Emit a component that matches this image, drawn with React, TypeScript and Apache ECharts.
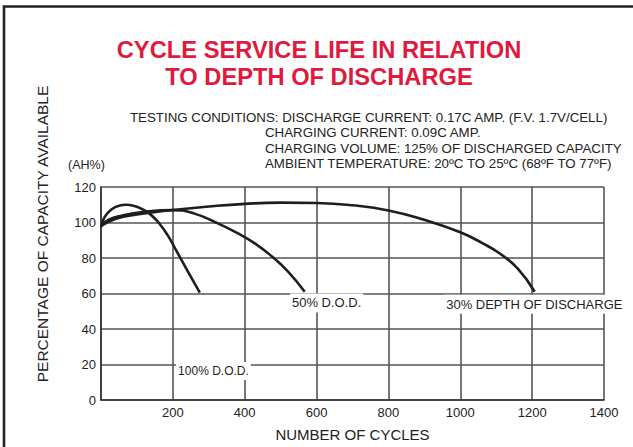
import React, { useEffect, useRef } from "react";
import * as echarts from "echarts";

const FONT = '"Liberation Sans", Arial, Helvetica, sans-serif';

const titleLines = ["CYCLE SERVICE LIFE IN RELATION", "TO DEPTH OF DISCHARGE"];
const conditionLines = [
  "TESTING CONDITIONS: DISCHARGE CURRENT: 0.17C AMP. (F.V. 1.7V/CELL)",
  "CHARGING CURRENT: 0.09C AMP.",
  "CHARGING VOLUME: 125% OF DISCHARGED CAPACITY",
  "AMBIENT TEMPERATURE: 20ºC TO 25ºC (68ºF TO 77ºF)",
];
const yAxisTitle = "PERCENTAGE OF CAPACITY AVAILABLE";
const xAxisTitle = "NUMBER OF CYCLES";
const unitLabel = "(AH%)";

const seriesNames = ["100% D.O.D.", "50% D.O.D.", "30% DEPTH OF DISCHARGE"];

const cycles100 = [0, 10, 30, 50, 70, 90, 110, 135, 160, 185, 210, 240, 275];
const capacity100 = [97.5, 103, 107.5, 109.5, 110, 109.5, 108, 105, 100, 93, 84, 73, 60.5];

const cycles50 = [0, 20, 60, 120, 200, 260, 320, 380, 430, 475, 520, 567];
const capacity50 = [98, 101.5, 104, 106, 107, 105, 100, 94, 88, 81, 72.5, 61];

const cycles30 = [0, 40, 100, 200, 300, 400, 500, 600, 700, 800, 900, 1000, 1060, 1110, 1160, 1207];
const capacity30 = [98, 102, 104.5, 107, 109, 110.5, 111.2, 111, 109.7, 106.8, 101.5, 94.5, 88.5, 82.5, 74, 61];

// label anchor positions in data space [cycles, capacity]
const labelAnchors = [
  [313, 16.4],
  [628, 54.7],
  [1206, 54],
];

const pairs = (xs: number[], ys: number[]) => xs.map((x, i) => [x, ys[i]]);

export default function App() {
  const ref = useRef<HTMLDivElement>(null);

  useEffect(() => {
    if (!ref.current) return;
    const chart = echarts.init(ref.current, null, { renderer: "svg" });

    const dataSets = [
      pairs(cycles100, capacity100),
      pairs(cycles50, capacity50),
      pairs(cycles30, capacity30),
    ];
    const labelSizes = [12, 13, 13];

    const series = dataSets.map((data, i) => ({
      type: "line",
      name: seriesNames[i],
      data,
      smooth: 0.5,
      showSymbol: false,
      symbol: "none",
      clip: false,
      lineStyle: { color: "#1e1e1e", width: 2.6 },
      markPoint: {
        symbol: "rect",
        symbolSize: 1,
        itemStyle: { color: "rgba(0,0,0,0)" },
        data: [
          {
            coord: labelAnchors[i],
            label: {
              show: true,
              position: "inside",
              formatter: seriesNames[i],
              color: "#1e1e1e",
              fontFamily: FONT,
              fontSize: labelSizes[i],
              backgroundColor: "#ffffff",
              padding: [3, 2],
            },
          },
        ],
      },
    }));

    const graphic: any[] = [
      {
        type: "rect",
        shape: { x: 4, y: 6.5, width: 800, height: 600 },
        style: { fill: "none", stroke: "#222", lineWidth: 2.6 },
        silent: true,
      },
      ...titleLines.map((t, i) => ({
        type: "text",
        x: 319,
        y: 50 + i * 26.5,
        style: {
          text: t,
          align: "center",
          verticalAlign: "middle",
          fill: "#e01a3e",
          fontFamily: FONT,
          fontWeight: "bold",
          fontSize: 23.7,
        },
      })),
      ...conditionLines.map((t, i) => ({
        type: "text",
        x: i === 0 ? 130 : 265,
        y: 117 + i * 15.6,
        style: {
          text: t,
          align: "left",
          verticalAlign: "middle",
          fill: "#222",
          fontFamily: FONT,
          fontSize: 13.3,
        },
      })),
      {
        type: "text",
        x: 68,
        y: 165,
        style: {
          text: unitLabel,
          align: "left",
          verticalAlign: "middle",
          fill: "#222",
          fontFamily: FONT,
          fontSize: 12.5,
        },
      },
      {
        type: "text",
        x: 42,
        y: 234,
        rotation: Math.PI / 2,
        style: {
          text: yAxisTitle,
          align: "center",
          verticalAlign: "middle",
          fill: "#222",
          fontFamily: FONT,
          fontSize: 15.5,
        },
      },
    ];

    chart.setOption({
      animation: false,
      backgroundColor: "#ffffff",
      grid: { left: 101, top: 187, right: 29, bottom: 47, containLabel: false },
      xAxis: {
        type: "value",
        min: 0,
        max: 1400,
        interval: 200,
        name: xAxisTitle,
        nameLocation: "middle",
        nameGap: 27,
        nameTextStyle: { color: "#222", fontFamily: FONT, fontSize: 15 },
        axisLine: { show: true, lineStyle: { color: "#333", width: 1.6 } },
        axisTick: { show: false },
        axisLabel: {
          color: "#222",
          fontFamily: FONT,
          fontSize: 13,
          margin: 6,
          showMinLabel: false,
          formatter: (v: number) => String(v),
        },
        splitLine: { show: true, lineStyle: { color: "#555", width: 1.6 } },
      },
      yAxis: {
        type: "value",
        min: 0,
        max: 120,
        interval: 20,
        axisLine: { show: true, lineStyle: { color: "#333", width: 1.6 } },
        axisTick: { show: false },
        axisLabel: { color: "#222", fontFamily: FONT, fontSize: 13, margin: 5 },
        splitLine: { show: true, lineStyle: { color: "#555", width: 1.6 } },
      },
      graphic,
      series,
    });

    return () => chart.dispose();
  }, []);

  return (
    <div
      ref={ref}
      style={{ position: "fixed", left: 0, top: 0, width: 633, height: 447, background: "#fff" }}
    />
  );
}
